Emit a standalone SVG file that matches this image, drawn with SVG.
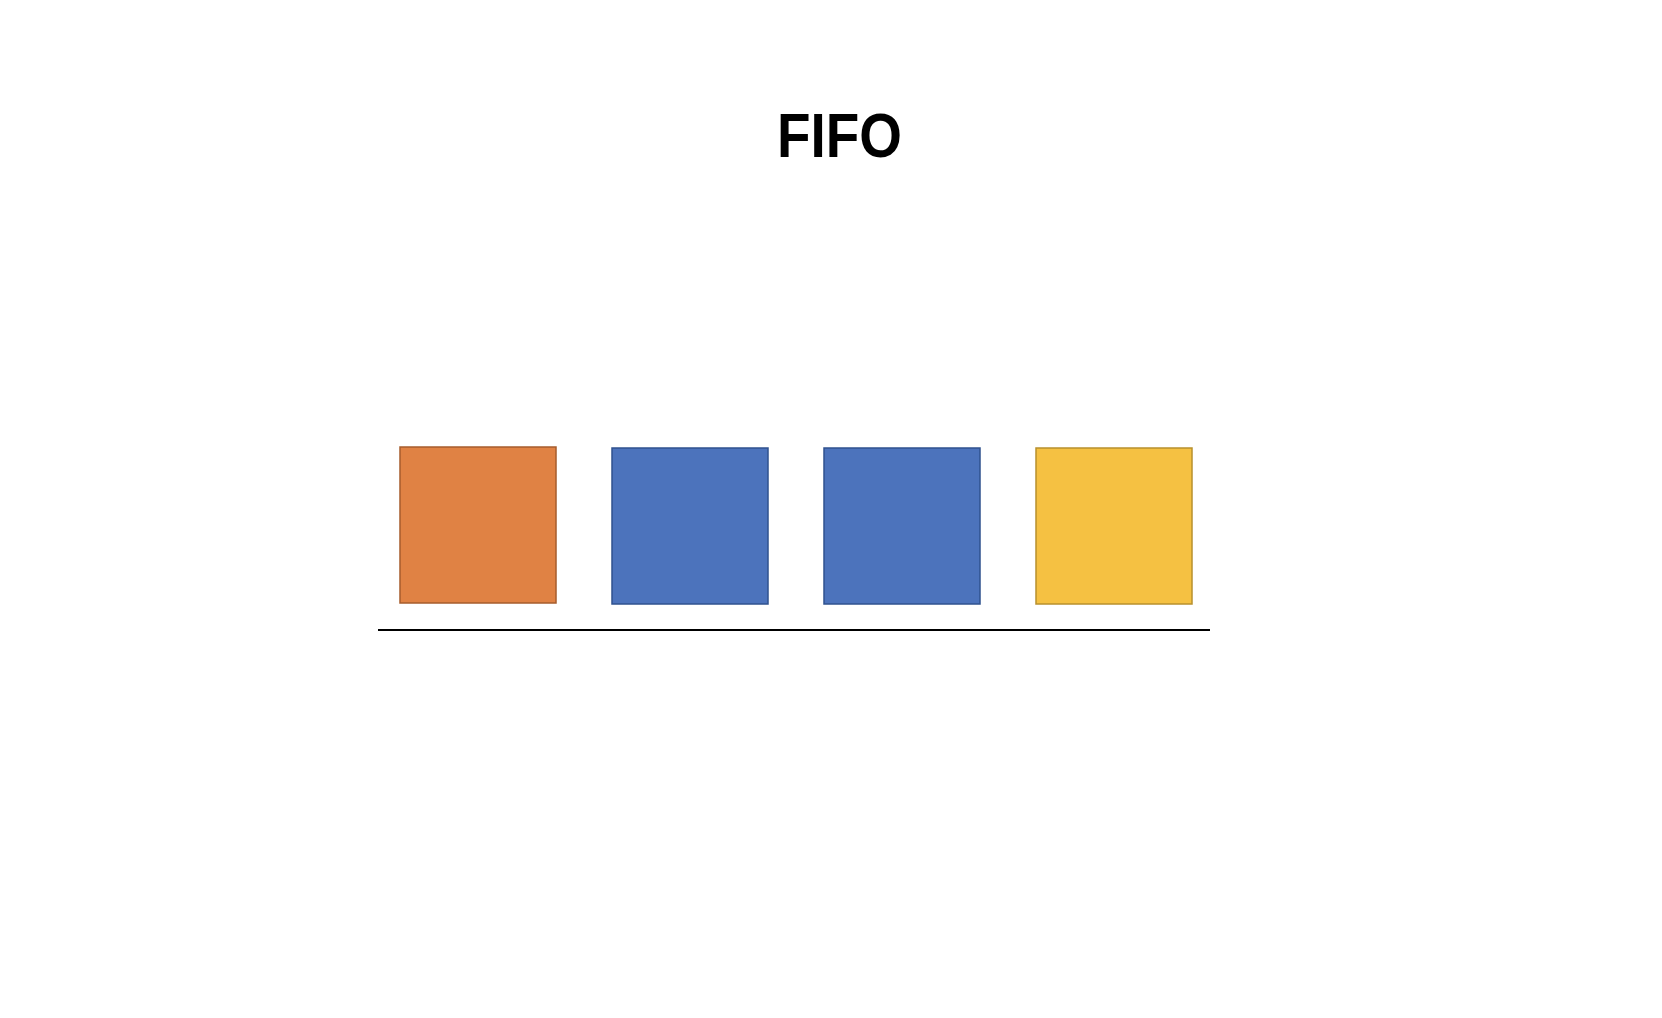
<svg xmlns="http://www.w3.org/2000/svg" width="1662" height="1018" viewBox="0 0 1662 1018">
<style>
.box{stroke-width:1.5}
.title{font-family:"Liberation Sans",Arial,sans-serif;font-weight:bold;font-size:63px;fill:#000}
</style>
<rect width="1662" height="1018" fill="#fff"/>
<text class="title" x="839.5" y="157" text-anchor="middle" textLength="125" lengthAdjust="spacingAndGlyphs">FIFO</text>
<g id="connectors">
<line x1="378" y1="630" x2="1210" y2="630" stroke="#000" stroke-width="2"/>
</g>
<g id="box1"><rect class="box" x="400" y="447" width="156" height="156" fill="#E08244" stroke="#A65C2C"/></g>
<g id="box2"><rect class="box" x="612" y="448" width="156" height="156" fill="#4C73BC" stroke="#2F528F"/></g>
<g id="box3"><rect class="box" x="824" y="448" width="156" height="156" fill="#4C73BC" stroke="#2F528F"/></g>
<g id="box4"><rect class="box" x="1036" y="448" width="156" height="156" fill="#F5C142" stroke="#B8902C"/></g>
</svg>
